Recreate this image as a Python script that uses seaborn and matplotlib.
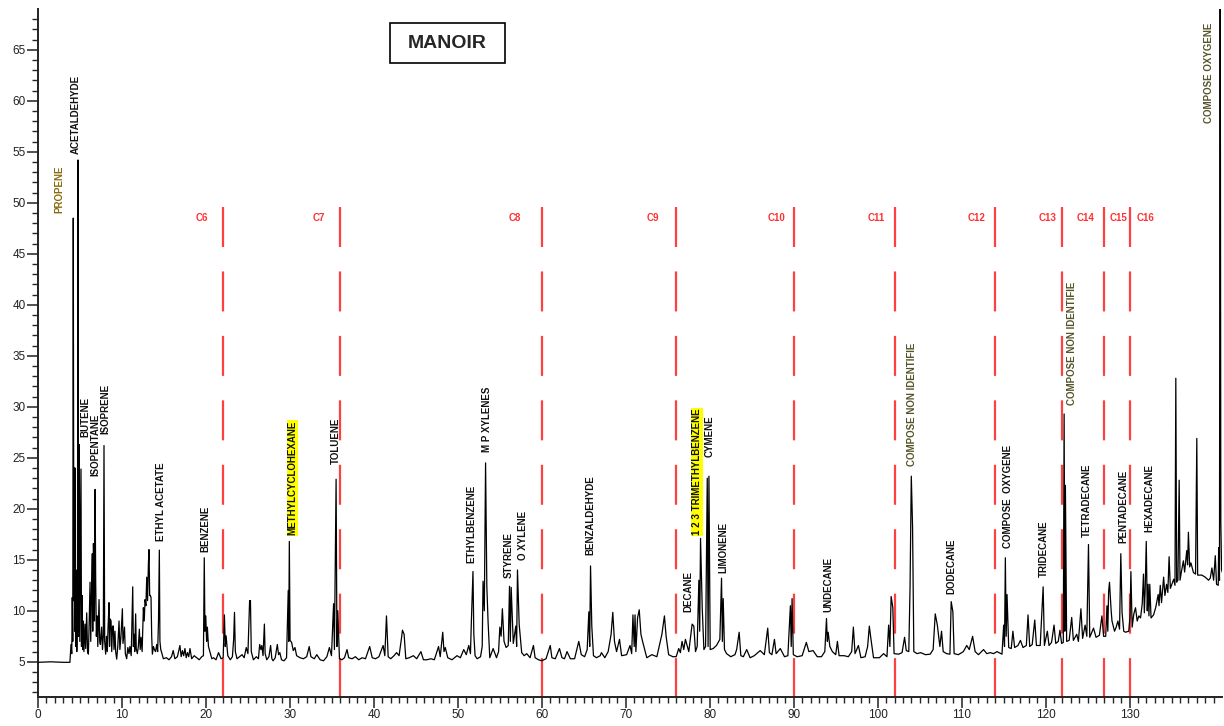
import numpy as np
import pandas as pd
import matplotlib
matplotlib.use("Agg")
import matplotlib.pyplot as plt
import matplotlib.patches as patches
import seaborn as sns

#####################
### Data
#####################

# trace vertices (retention time in min, signal), one list per time window
trace_0_15 = [(0.0, 4.95), (1.5, 5.0), (3.0, 4.95), (3.8, 4.95), (3.93, 6.7), (4.02, 5.8), (4.08, 11.3),
              (4.14, 7.0), (4.2, 48.5), (4.27, 11.0), (4.32, 24.0), (4.37, 8.0), (4.42, 24.0), (4.48, 6.5),
              (4.55, 14.0), (4.62, 6.0), (4.7, 11.3), (4.76, 54.2), (4.82, 7.5), (4.87, 14.0), (4.92, 26.3),
              (4.98, 7.0), (5.04, 14.0), (5.12, 23.9), (5.18, 6.5), (5.25, 11.5), (5.32, 6.2), (5.4, 9.0),
              (5.47, 6.0), (5.6, 8.7), (5.68, 6.3), (5.8, 9.8), (5.9, 6.0), (6.0, 5.75), (6.1, 9.0),
              (6.2, 12.8), (6.28, 7.0), (6.38, 12.0), (6.47, 15.6), (6.52, 8.0), (6.6, 16.6), (6.66, 14.4),
              (6.72, 9.0), (6.8, 21.9), (6.87, 12.9), (6.95, 7.5), (7.05, 9.5), (7.12, 6.5), (7.27, 11.1),
              (7.35, 7.0), (7.43, 6.7), (7.58, 8.4), (7.68, 6.2), (7.78, 7.5), (7.86, 26.2), (7.94, 7.0),
              (8.06, 5.75), (8.15, 7.5), (8.25, 6.0), (8.35, 8.5), (8.46, 10.8), (8.52, 6.5), (8.6, 9.2),
              (8.7, 9.0), (8.78, 6.0), (8.88, 8.5), (8.97, 8.5), (9.05, 6.2), (9.17, 8.0), (9.25, 6.0),
              (9.37, 5.26), (9.5, 6.5), (9.65, 9.0), (9.75, 6.2), (9.88, 7.5), (10.05, 10.2), (10.12, 6.8),
              (10.3, 8.4), (10.4, 5.8), (10.56, 5.3), (10.7, 6.4), (10.84, 5.8), (10.95, 6.5), (11.1, 5.6),
              (11.28, 12.35), (11.36, 6.5), (11.44, 7.7), (11.52, 6.0), (11.63, 9.7), (11.7, 6.3),
              (11.83, 5.8), (11.95, 6.5), (12.07, 8.2), (12.17, 6.2), (12.27, 7.4), (12.4, 6.0),
              (12.55, 10.3), (12.65, 9.0), (12.75, 11.1), (12.85, 10.5), (12.95, 13.3), (13.05, 11.0),
              (13.15, 14.7), (13.22, 16.0), (13.3, 11.5), (13.38, 11.5), (13.46, 11.3), (13.54, 7.5),
              (13.62, 5.75), (13.75, 6.5), (13.86, 6.2), (14.0, 6.0), (14.14, 6.7), (14.25, 6.0),
              (14.35, 9.0), (14.45, 15.95), (14.52, 7.0), (14.62, 6.2), (14.73, 5.9), (14.93, 5.3)]

trace_15_31 = [(15.3, 5.4), (15.6, 5.2), (15.9, 5.5), (16.1, 6.1), (16.3, 5.3), (16.6, 5.5), (16.9, 6.6),
               (17.05, 5.5), (17.2, 6.1), (17.35, 5.6), (17.5, 6.3), (17.65, 5.4), (17.8, 5.9), (17.95, 5.5),
               (18.1, 6.3), (18.3, 5.3), (18.6, 5.6), (18.9, 5.4), (19.2, 5.2), (19.5, 5.5), (19.7, 5.6),
               (19.8, 15.2), (19.88, 8.0), (19.98, 9.5), (20.08, 7.0), (20.17, 8.4), (20.3, 6.5), (20.5, 5.9),
               (20.7, 5.3), (20.9, 5.4), (21.2, 5.2), (21.5, 5.9), (21.8, 5.3), (22.05, 5.4), (22.2, 9.6),
               (22.3, 6.5), (22.4, 7.55), (22.6, 5.6), (22.9, 5.2), (23.15, 5.5), (23.3, 7.2), (23.4, 9.85),
               (23.5, 6.0), (23.7, 5.3), (24.0, 5.5), (24.3, 5.7), (24.55, 5.4), (24.8, 6.4), (25.0, 5.8),
               (25.2, 11.0), (25.3, 11.0), (25.4, 6.0), (25.65, 5.2), (26.0, 5.5), (26.25, 5.3), (26.4, 6.7),
               (26.55, 6.2), (26.65, 6.6), (26.8, 5.6), (26.96, 8.7), (27.05, 5.8), (27.24, 5.2), (27.5, 5.5),
               (27.7, 6.6), (27.85, 5.3), (28.0, 5.1), (28.25, 5.4), (28.5, 6.7), (28.65, 5.7), (28.8, 5.9),
               (29.0, 5.2), (29.3, 5.1), (29.6, 5.4), (29.8, 12.0), (29.86, 7.0), (29.93, 16.8), (30.02, 7.1),
               (30.2, 6.9), (30.4, 6.1), (30.6, 6.4), (30.8, 5.6)]

trace_31_66 = [(31.2, 5.4), (31.6, 5.3), (32.0, 5.5), (32.3, 6.5), (32.5, 5.5), (32.9, 5.3), (33.2, 5.7),
               (33.6, 5.2), (34.0, 5.1), (34.4, 5.5), (34.7, 6.4), (34.95, 5.6), (35.2, 10.7), (35.3, 6.2),
               (35.5, 22.9), (35.6, 6.5), (35.7, 10.0), (35.9, 5.3), (36.2, 5.2), (36.5, 5.4), (36.8, 6.2),
               (37.0, 5.4), (37.4, 5.3), (37.8, 5.5), (38.2, 5.2), (38.6, 5.4), (39.0, 5.3), (39.5, 6.5),
               (39.8, 5.4), (40.2, 5.3), (40.6, 5.5), (41.1, 6.6), (41.3, 5.6), (41.5, 9.5), (41.7, 5.5),
               (42.0, 5.3), (42.4, 5.6), (42.7, 5.9), (43.0, 5.6), (43.3, 7.4), (43.4, 8.1), (43.6, 7.7),
               (43.8, 5.3), (44.2, 5.4), (44.7, 5.6), (45.1, 5.3), (45.6, 6.0), (45.9, 5.2), (46.3, 5.2),
               (46.8, 5.3), (47.2, 5.2), (47.7, 6.5), (47.9, 5.5), (48.2, 7.9), (48.35, 6.0), (48.5, 6.4),
               (48.8, 5.4), (49.3, 5.2), (49.9, 5.6), (50.3, 5.4), (50.7, 6.2), (51.0, 5.7), (51.3, 6.6),
               (51.5, 5.8), (51.6, 8.7), (51.8, 13.85), (51.9, 7.7), (52.05, 5.6), (52.3, 5.3), (52.7, 5.5),
               (52.9, 6.5), (53.0, 12.9), (53.15, 10.0), (53.3, 24.5), (53.45, 12.4), (53.6, 8.9), (53.8, 5.4),
               (54.2, 6.3), (54.6, 5.4), (54.85, 6.0), (55.0, 8.4), (55.15, 7.5), (55.3, 10.2), (55.5, 7.0),
               (55.75, 6.4), (56.0, 6.6), (56.15, 12.4), (56.25, 7.0), (56.35, 12.3), (56.6, 6.8),
               (56.9, 8.5), (57.0, 6.5), (57.1, 14.0), (57.3, 8.7), (57.6, 5.9), (57.9, 5.6), (58.2, 5.8),
               (58.6, 5.4), (59.0, 6.6), (59.2, 5.4), (59.6, 5.2), (60.0, 5.1), (60.5, 5.3), (61.0, 6.6),
               (61.2, 5.4), (61.6, 5.3), (62.1, 6.3), (62.4, 5.4), (62.7, 5.3), (63.0, 6.0), (63.4, 5.3),
               (63.9, 5.3), (64.4, 7.0), (64.7, 5.7), (65.1, 5.5), (65.4, 6.2), (65.6, 9.9), (65.7, 6.5),
               (65.8, 14.4), (65.95, 8.5), (66.15, 5.6)]

trace_66_102 = [(66.5, 5.4), (66.95, 5.6), (67.1, 5.9), (67.5, 5.4), (67.9, 6.0), (68.25, 7.7), (68.45, 9.85),
                (68.65, 7.0), (68.9, 6.0), (69.25, 7.2), (69.5, 5.6), (70.1, 5.7), (70.5, 6.6), (70.7, 5.8),
                (70.85, 9.6), (71.0, 6.5), (71.1, 9.6), (71.2, 6.0), (71.4, 9.3), (71.6, 10.1), (71.8, 7.7),
                (72.0, 7.0), (72.5, 5.4), (73.1, 5.7), (73.7, 5.5), (74.3, 7.7), (74.6, 9.5), (74.8, 7.5),
                (75.1, 5.7), (75.6, 5.5), (76.0, 5.5), (76.3, 6.3), (76.5, 5.9), (76.7, 7.0), (76.9, 6.2),
                (77.1, 7.2), (77.5, 6.0), (77.9, 8.7), (78.1, 8.5), (78.3, 6.0), (78.5, 6.5), (78.7, 13.0),
                (78.8, 8.0), (78.9, 17.1), (79.1, 10.3), (79.3, 6.2), (79.5, 6.5), (79.7, 23.0), (79.8, 6.5),
                (79.9, 23.2), (80.05, 6.2), (80.4, 6.3), (80.8, 6.6), (81.2, 7.2), (81.4, 13.2), (81.5, 7.0),
                (81.6, 11.2), (81.75, 6.2), (82.0, 5.8), (82.5, 5.5), (83.0, 5.7), (83.2, 6.2), (83.5, 7.9),
                (83.7, 5.6), (84.0, 5.5), (84.4, 6.2), (84.8, 5.4), (85.3, 5.6), (86.0, 6.1), (86.5, 5.7),
                (86.9, 8.3), (87.1, 5.9), (87.4, 5.7), (87.7, 7.2), (87.9, 5.8), (88.4, 6.3), (88.9, 5.5),
                (89.3, 5.6), (89.6, 10.5), (89.7, 6.5), (89.8, 11.2), (89.95, 5.7), (90.4, 5.5), (91.0, 5.6),
                (91.5, 6.9), (91.8, 6.0), (92.3, 6.1), (92.8, 5.5), (93.3, 5.5), (93.7, 6.0), (93.9, 9.25),
                (94.0, 7.0), (94.1, 7.9), (94.3, 6.5), (94.6, 6.0), (95.0, 5.7), (95.2, 7.0), (95.4, 5.6),
                (96.0, 5.6), (96.5, 5.5), (96.9, 6.0), (97.1, 8.4), (97.3, 5.8), (97.7, 6.6), (98.0, 5.4),
                (98.5, 5.5), (98.8, 6.5), (99.0, 8.5), (99.2, 7.2), (99.5, 5.4), (100.2, 5.4), (100.7, 5.8),
                (101.1, 5.5), (101.3, 8.6), (101.45, 6.5), (101.6, 11.4), (101.8, 10.3), (101.95, 5.8)]

trace_102_130 = [(102.5, 5.75), (102.9, 5.9), (103.2, 7.4), (103.4, 6.1), (103.7, 6.0), (103.85, 12.3),
                 (104.0, 23.2), (104.15, 18.2), (104.3, 6.0), (104.7, 5.8), (105.1, 5.9), (105.7, 5.7),
                 (106.25, 5.75), (106.6, 6.2), (106.85, 9.7), (107.1, 8.6), (107.4, 6.5), (107.6, 8.0),
                 (107.8, 6.0), (108.2, 5.8), (108.6, 5.75), (108.75, 10.9), (108.95, 9.9), (109.1, 5.8),
                 (109.6, 5.7), (110.2, 6.0), (110.6, 6.6), (110.9, 6.2), (111.3, 7.5), (111.6, 6.0),
                 (112.0, 5.7), (112.6, 6.2), (113.0, 5.8), (113.4, 5.9), (113.8, 5.8), (114.2, 6.0),
                 (114.8, 5.75), (115.0, 8.6), (115.1, 6.5), (115.2, 15.2), (115.3, 7.5), (115.4, 11.6),
                 (115.6, 6.4), (115.9, 6.3), (116.1, 8.0), (116.3, 6.4), (116.7, 6.6), (117.0, 7.1),
                 (117.3, 6.4), (117.7, 6.6), (117.9, 9.6), (118.1, 6.5), (118.4, 6.7), (118.7, 9.1),
                 (118.9, 6.6), (119.35, 6.6), (119.7, 12.35), (119.85, 6.6), (120.2, 8.0), (120.4, 6.6),
                 (120.7, 6.9), (121.0, 8.6), (121.2, 6.8), (121.5, 7.0), (121.7, 8.1), (121.9, 6.8),
                 (122.1, 6.9), (122.2, 29.3), (122.28, 8.0), (122.35, 22.3), (122.5, 7.0), (122.8, 7.1),
                 (123.1, 9.35), (123.3, 7.1), (123.7, 7.7), (123.9, 7.0), (124.2, 10.2), (124.4, 7.3),
                 (124.7, 8.6), (124.9, 7.5), (125.1, 16.5), (125.25, 7.4), (125.7, 8.3), (126.0, 7.4),
                 (126.4, 7.6), (126.7, 9.5), (126.9, 7.5), (127.15, 7.5), (127.3, 10.5), (127.4, 8.0),
                 (127.5, 11.9), (127.6, 12.8), (127.8, 10.0), (127.9, 9.0), (128.2, 8.0), (128.4, 8.4),
                 (128.6, 9.0), (128.8, 8.2), (128.95, 15.6), (129.1, 9.8), (129.3, 8.0), (129.5, 7.9),
                 (129.9, 8.0), (130.05, 9.5), (130.15, 13.85), (130.3, 8.4)]

trace_130_141 = [(130.5, 9.7), (130.7, 10.3), (130.9, 9.0), (131.1, 9.5), (131.3, 9.3), (131.5, 10.7),
                 (131.65, 13.6), (131.75, 9.8), (131.85, 12.0), (131.98, 16.8), (132.1, 10.0), (132.2, 12.6),
                 (132.3, 9.5), (132.4, 12.6), (132.55, 9.3), (132.85, 9.6), (133.1, 10.3), (133.4, 11.6),
                 (133.5, 10.5), (133.65, 12.5), (133.8, 10.8), (134.05, 13.3), (134.2, 11.5), (134.4, 12.6),
                 (134.55, 11.8), (134.7, 15.3), (134.85, 12.2), (135.25, 13.1), (135.4, 12.5), (135.5, 32.8),
                 (135.6, 12.8), (135.75, 13.0), (135.9, 22.8), (136.0, 13.0), (136.2, 14.0), (136.4, 14.9),
                 (136.55, 13.8), (136.8, 15.9), (136.9, 14.5), (137.0, 17.7), (137.15, 14.3), (137.3, 14.7),
                 (137.6, 13.75), (137.85, 13.6), (138.0, 26.9), (138.1, 13.5), (138.6, 13.5), (139.0, 13.3),
                 (139.4, 13.0), (139.6, 13.2), (139.8, 14.2), (140.0, 13.0), (140.2, 15.4), (140.35, 12.6),
                 (140.55, 12.5), (140.6, 16.2), (140.7, 13.0), (140.78, 80.0), (140.86, 18.7), (140.95, 14.0),
                 (141.2, 13.4)]

# compound labels: name, retention time, height of the label foot
cmp_names = ["PROPENE", "ACETALDEHYDE", "BUTENE", "ISOPENTANE", "ISOPRENE", "ETHYL ACETATE", "BENZENE",
             "METHYLCYCLOHEXANE", "TOLUENE", "ETHYLBENZENE", "M P XYLENES", "STYRENE", "O XYLENE",
             "BENZALDEHYDE", "DECANE", "1 2 3 TRIMETHYLBENZENE", "CYMENE", "LIMONENE", "UNDECANE",
             "COMPOSE NON IDENTIFIE", "DODECANE", "COMPOSE  OXYGENE", "TRIDECANE", "COMPOSE NON IDENTIFIE",
             "TETRADECANE", "PENTADECANE", "HEXADECANE", "COMPOSE OXYGENE"]
cmp_x = [2.55, 4.5, 5.6, 6.87, 7.98, 14.7, 19.98, 30.3, 35.5, 51.6, 53.45, 56.1, 57.8, 65.8, 77.5, 78.5,
         80.0, 81.6, 94.1, 104.1, 108.8, 115.5, 119.8, 123.1, 124.9, 129.2, 132.4, 139.5]
cmp_y = [49.0, 54.8, 27.0, 23.2, 27.3, 16.8, 15.8, 17.4, 24.4, 14.7, 25.6, 13.2, 15.0, 15.5, 9.9, 17.4,
         25.1, 13.75, 9.9, 24.2, 11.6, 16.2, 13.3, 30.2, 17.2, 16.6, 17.7, 57.8]
highlighted = ["METHYLCYCLOHEXANE", "1 2 3 TRIMETHYLBENZENE"]
olive_labels = ["PROPENE", "COMPOSE NON IDENTIFIE", "COMPOSE OXYGENE"]

# carbon-number cut lines and their labels
cut_x = [22, 36, 60, 76, 90, 102, 114, 122, 127, 130]
carbon_names = ["C6", "C7", "C8", "C9", "C10", "C11", "C12", "C13", "C14", "C15", "C16"]
carbon_x = [19.5, 33.5, 56.8, 73.2, 88.0, 99.8, 111.8, 120.2, 124.8, 128.7, 131.9]

#####################
### Plot
#####################

df = pd.DataFrame(trace_0_15 + trace_15_31 + trace_31_66 + trace_66_102 + trace_102_130 + trace_130_141,
                  columns=["time", "signal"])

sns.set_style("ticks")
plt.rcParams['font.family'] = ['Liberation Sans', 'DejaVu Sans']

fig = plt.figure(figsize=(12.24, 7.26), dpi=100)
ax = fig.add_axes([38/1224, 29/726, (1222-38)/1224, (717-29)/726])

ylo, yhi = 1.55, 69.0

# red dashed cut lines (drawn from the top so the dash starts there)
for xc in cut_x:
    ax.plot([xc, xc], [49.6, ylo], color="#ff4040", lw=1.6, dashes=(18, 11), zorder=1)
for name, xc in zip(carbon_names, carbon_x):
    ax.text(xc, 48.5, name, color="#ff3030", fontsize=7, fontweight="bold", ha="center", va="center")

sns.lineplot(data=df, x="time", y="signal", estimator=None, sort=False,
             color="black", lw=0.9, ax=ax, zorder=3)

for name, xc, yc in zip(cmp_names, cmp_x, cmp_y):
    color = "#111111"
    if name in olive_labels:
        color = "#55552a" if name != "PROPENE" else "#8a6a10"
    kw = {}
    if name in highlighted:
        kw["bbox"] = dict(facecolor="yellow", edgecolor="none", pad=0.6)
    ax.text(xc, yc, name, rotation=90, ha="center", va="bottom", fontsize=7.0,
            fontweight="bold", color=color, **kw)

# title box
ax.add_patch(patches.Rectangle((41.9, 63.7), 13.7, 3.9, facecolor="white", edgecolor="black", lw=1.2, zorder=4))
ax.text(48.75, 65.65, "MANOIR", fontsize=14, fontweight="bold", ha="center", va="center", zorder=5)

ax.set_xlim(0, 141.0)
ax.set_ylim(ylo, yhi)
ax.set_xticks(np.arange(0, 131, 10))
ax.set_xticks(np.arange(0, 141, 1), minor=True)
ax.set_yticks(np.arange(5, 66, 5))
ax.set_yticks(np.arange(2, 69, 1), minor=True)
ax.tick_params(axis="both", which="major", length=8, width=1.1, labelsize=8.5, pad=1, colors="#222222")
ax.tick_params(axis="both", which="minor", length=4.5, width=1.0)
ax.set_xlabel("")
ax.set_ylabel("")
sns.despine(ax=ax)
for sp in ["left", "bottom"]:
    ax.spines[sp].set_linewidth(1.4)
    ax.spines[sp].set_color("#222222")

fig.savefig("out.png", dpi=100)
